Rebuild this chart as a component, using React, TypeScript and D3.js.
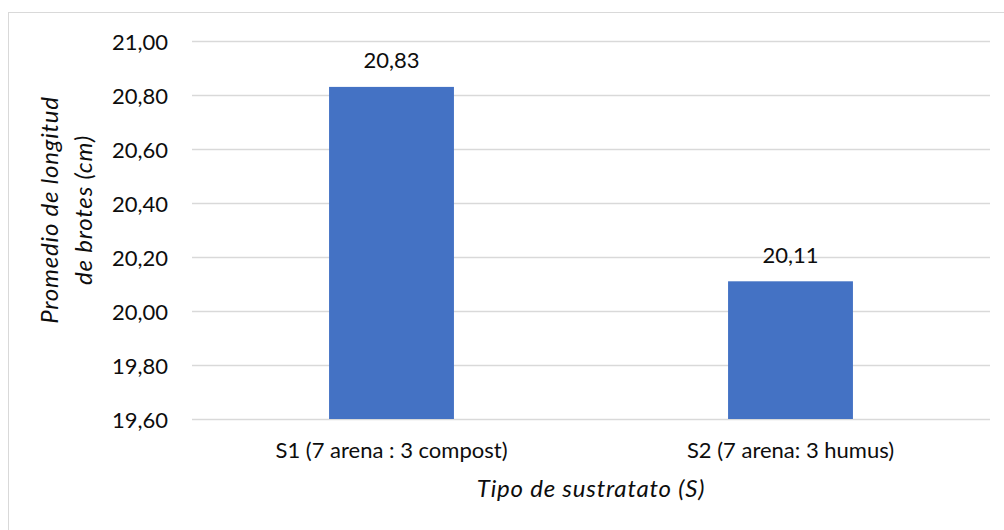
import { useEffect, useRef } from "react";
import * as d3 from "d3";

const categories = ["S1 (7 arena : 3 compost)", "S2 (7 arena: 3 humus)"];
const values = [20.83, 20.11];
const yTicks = [19.6, 19.8, 20.0, 20.2, 20.4, 20.6, 20.8, 21.0];
const yTitleLines = ["Promedio de longitud", "de brotes (cm)"];
const xTitle = "Tipo de sustratato (S)";

const fmt = (v: number) => v.toFixed(2).replace(".", ",");

export default function App() {
  const svgRef = useRef<SVGSVGElement>(null);

  useEffect(() => {
    if (!svgRef.current) return;
    const svg = d3.select(svgRef.current);
    svg.selectAll("*").remove();

    const width = 1004;
    const height = 530;
    const plot = { left: 192, right: 990, top: 41, bottom: 419 };
    const font = "Lato, 'Open Sans', sans-serif";
    const ink = "#0d0d0d";

    svg.attr("width", width).attr("height", height)
      .attr("style", `background: white; font-family: ${font};`);

    // ── Chart frame ──────────────────────────────────────────────
    svg.append("rect")
      .attr("x", 8.5).attr("y", 12.5)
      .attr("width", 1010).attr("height", 540)
      .attr("fill", "white")
      .attr("stroke", "#d9d9d9")
      .attr("stroke-width", 1);

    // ── Scales ───────────────────────────────────────────────────
    const x = d3.scaleBand<string>()
      .domain(categories)
      .range([plot.left, plot.right])
      .paddingInner(0.687)
      .paddingOuter(0.3435);

    const y = d3.scaleLinear()
      .domain([19.6, 21.0])
      .range([plot.bottom, plot.top]);

    // ── Gridlines ────────────────────────────────────────────────
    yTicks.forEach((t) => {
      const yy = Math.round(y(t)) + 0.5;
      svg.append("line")
        .attr("x1", plot.left).attr("x2", plot.right)
        .attr("y1", yy).attr("y2", yy)
        .attr("stroke", "#d9d9d9")
        .attr("stroke-width", 1.5);
    });

    // ── Y tick labels ────────────────────────────────────────────
    yTicks.forEach((t) => {
      svg.append("text")
        .attr("x", 168)
        .attr("y", y(t))
        .attr("text-anchor", "end")
        .attr("dominant-baseline", "central")
        .attr("font-size", 22)
        .attr("fill", ink)
        .text(fmt(t));
    });

    // ── Bars ─────────────────────────────────────────────────────
    categories.forEach((c, i) => {
      const x0 = x(c)!;
      svg.append("rect")
        .attr("x", x0)
        .attr("y", y(values[i]))
        .attr("width", x.bandwidth())
        .attr("height", y(19.6) - y(values[i]))
        .attr("fill", "#4472c4");

      // value label
      svg.append("text")
        .attr("x", x0 + x.bandwidth() / 2)
        .attr("y", y(values[i]) - 18.5)
        .attr("text-anchor", "middle")
        .attr("font-size", 22)
        .attr("fill", ink)
        .text(fmt(values[i]));

      // category label
      svg.append("text")
        .attr("x", x0 + x.bandwidth() / 2)
        .attr("y", 458)
        .attr("text-anchor", "middle")
        .attr("font-size", 22)
        .attr("fill", ink)
        .text(c);
    });

    // ── Axis titles ──────────────────────────────────────────────
    svg.append("text")
      .attr("x", (plot.left + plot.right) / 2)
      .attr("y", 497)
      .attr("text-anchor", "middle")
      .attr("font-size", 24)
      .attr("font-style", "italic")
      .attr("letter-spacing", 0.8)
      .attr("fill", ink)
      .text(xTitle);

    yTitleLines.forEach((line, i) => {
      svg.append("text")
        .attr("transform", `translate(${48 + i * 34},210) rotate(-90)`)
        .attr("text-anchor", "middle")
        .attr("dominant-baseline", "central")
        .attr("font-size", 24)
        .attr("font-style", "italic")
        .attr("letter-spacing", 0.8)
        .attr("fill", ink)
        .text(line);
    });
  }, []);

  return (
    <div style={{ position: "absolute", left: 0, top: 0 }}>
      <svg ref={svgRef} />
    </div>
  );
}
